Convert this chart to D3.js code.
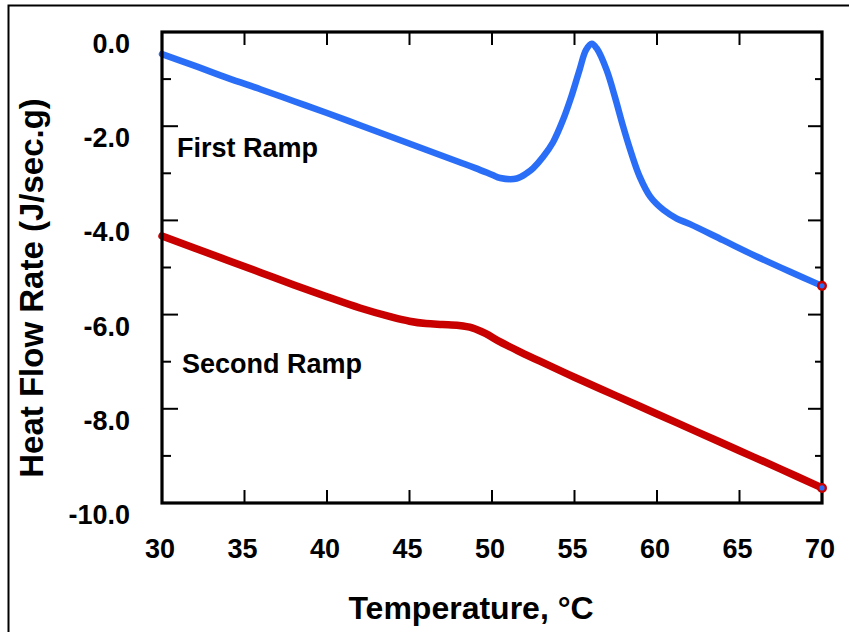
<!DOCTYPE html>
<html>
<head>
<meta charset="utf-8">
<script src="https://cdn.jsdelivr.net/npm/d3@7/dist/d3.min.js"></script>
<style>
  html, body { margin: 0; padding: 0; background: #fff; }
  svg { display: block; }
  text { font-family: "Liberation Sans", Arial, sans-serif; font-weight: bold; fill: #000; }
</style>
</head>
<body>
<svg id="chart" width="849" height="632"></svg>
<script>
// ---- Data ----
const firstRampT = [30, 32, 34, 36, 38, 40, 42, 44, 46, 48, 49, 50, 50.5, 51.5, 52.1, 52.5, 53.1, 53.7, 54.3, 54.8, 55.3, 55.7, 56.05, 56.35, 56.95, 57.45, 57.95, 58.45, 58.95, 59.6, 60.4, 61.2, 62, 64, 66, 68, 70];
const firstRampH = [-0.47, -0.72, -0.98, -1.22, -1.47, -1.72, -1.98, -2.24, -2.50, -2.76, -2.89, -3.03, -3.10, -3.11, -3.00, -2.89, -2.65, -2.34, -1.87, -1.38, -0.81, -0.38, -0.25, -0.35, -0.81, -1.38, -2.01, -2.58, -3.07, -3.50, -3.78, -3.96, -4.08, -4.42, -4.76, -5.08, -5.39];

const secondRampT = [30, 32, 34, 36, 38, 40, 42, 44, 45, 46, 47, 48, 48.8, 49.6, 50.5, 51.7, 52.9, 55, 57.5, 60, 62.5, 65, 67.5, 70];
const secondRampH = [-4.33, -4.59, -4.85, -5.11, -5.37, -5.62, -5.86, -6.06, -6.14, -6.19, -6.21, -6.23, -6.28, -6.40, -6.58, -6.79, -6.99, -7.33, -7.72, -8.11, -8.50, -8.89, -9.28, -9.68];

const xTicks = [30, 35, 40, 45, 50, 55, 60, 65, 70];
const yMajorTicks = [0, -2, -4, -6, -8, -10];
const yMinorTicks = [-1, -3, -5, -7, -9];
const yTickLabels = ["0.0", "-2.0", "-4.0", "-6.0", "-8.0", "-10.0"];

const seriesNames = ["First Ramp", "Second Ramp"];
const xTitle = "Temperature, °C";
const yTitle = "Heat Flow Rate (J/sec.g)";

// ---- Layout ----
const svg = d3.select("#chart");
const L = 162, R = 822, T = 32, B = 503;

const x = d3.scaleLinear().domain([30, 70]).range([L, R]);
const y = d3.scaleLinear().domain([-10, 0]).range([B, T]);

// outer frame
svg.append("rect")
  .attr("x", 8.5).attr("y", 5.5)
  .attr("width", 860).attr("height", 640)
  .attr("fill", "none").attr("stroke", "#000").attr("stroke-width", 2);

// series
const series = [
  { name: seriesNames[0], t: firstRampT, h: firstRampH, color: "#2a6ef7", width: 6.5 },
  { name: seriesNames[1], t: secondRampT, h: secondRampH, color: "#c80000", width: 7.5 }
];

const line = d3.line()
  .x(d => x(d[0]))
  .y(d => y(d[1]))
  .curve(d3.curveCatmullRom.alpha(0.5));

const plot = svg.append("g");
series.forEach(s => {
  const pts = s.t.map((t, i) => [t, s.h[i]]);
  plot.append("path")
    .attr("d", line(pts))
    .attr("fill", "none")
    .attr("stroke", s.color)
    .attr("stroke-width", s.width)
    .attr("stroke-linejoin", "round")
    .attr("stroke-linecap", "round");
});

// axes (ticks on all four sides, inward)
const axisG = svg.append("g");
const tickStyle = sel => sel.attr("stroke", "#000").attr("stroke-width", 2);

xTicks.slice(1, -1).forEach(v => {
  tickStyle(axisG.append("line").attr("x1", x(v)).attr("x2", x(v)).attr("y1", B).attr("y2", B - 13));
  tickStyle(axisG.append("line").attr("x1", x(v)).attr("x2", x(v)).attr("y1", T).attr("y2", T + 13));
});
yMajorTicks.slice(1, -1).forEach(v => {
  tickStyle(axisG.append("line").attr("x1", L).attr("x2", L + 16).attr("y1", y(v)).attr("y2", y(v)));
  tickStyle(axisG.append("line").attr("x1", R).attr("x2", R - 14).attr("y1", y(v)).attr("y2", y(v)));
});
yMinorTicks.forEach(v => {
  tickStyle(axisG.append("line").attr("x1", L).attr("x2", L + 9).attr("y1", y(v)).attr("y2", y(v)));
  tickStyle(axisG.append("line").attr("x1", R).attr("x2", R - 7).attr("y1", y(v)).attr("y2", y(v)));
});

// plot frame
axisG.append("rect")
  .attr("x", L).attr("y", T)
  .attr("width", R - L).attr("height", B - T)
  .attr("fill", "none").attr("stroke", "#000").attr("stroke-width", 3.2);

// end markers
series.forEach(s => {
  const n = s.t.length - 1;
  svg.append("circle")
    .attr("cx", x(s.t[n])).attr("cy", y(s.h[n]))
    .attr("r", 3.8)
    .attr("fill", "#2a6ef7")
    .attr("stroke", "#c80000")
    .attr("stroke-width", 2.4);
});

// tick labels
xTicks.forEach(v => {
  svg.append("text")
    .attr("x", x(v) - 2).attr("y", 558)
    .attr("text-anchor", "middle")
    .attr("font-size", 27)
    .text(v);
});
yMajorTicks.forEach((v, i) => {
  svg.append("text")
    .attr("x", 130).attr("y", y(v) + 21)
    .attr("text-anchor", "end")
    .attr("font-size", 27)
    .text(yTickLabels[i]);
});

// series labels
svg.append("text").attr("x", 177).attr("y", 157).attr("font-size", 27).text(seriesNames[0]);
svg.append("text").attr("x", 182).attr("y", 373).attr("font-size", 27).text(seriesNames[1]);

// axis titles
svg.append("text")
  .attr("x", 471).attr("y", 619)
  .attr("text-anchor", "middle")
  .attr("font-size", 32)
  .text(xTitle);

svg.append("text")
  .attr("transform", "translate(43,288) rotate(-90)")
  .attr("text-anchor", "middle")
  .attr("font-size", 33)
  .text(yTitle);
</script>
</body>
</html>
